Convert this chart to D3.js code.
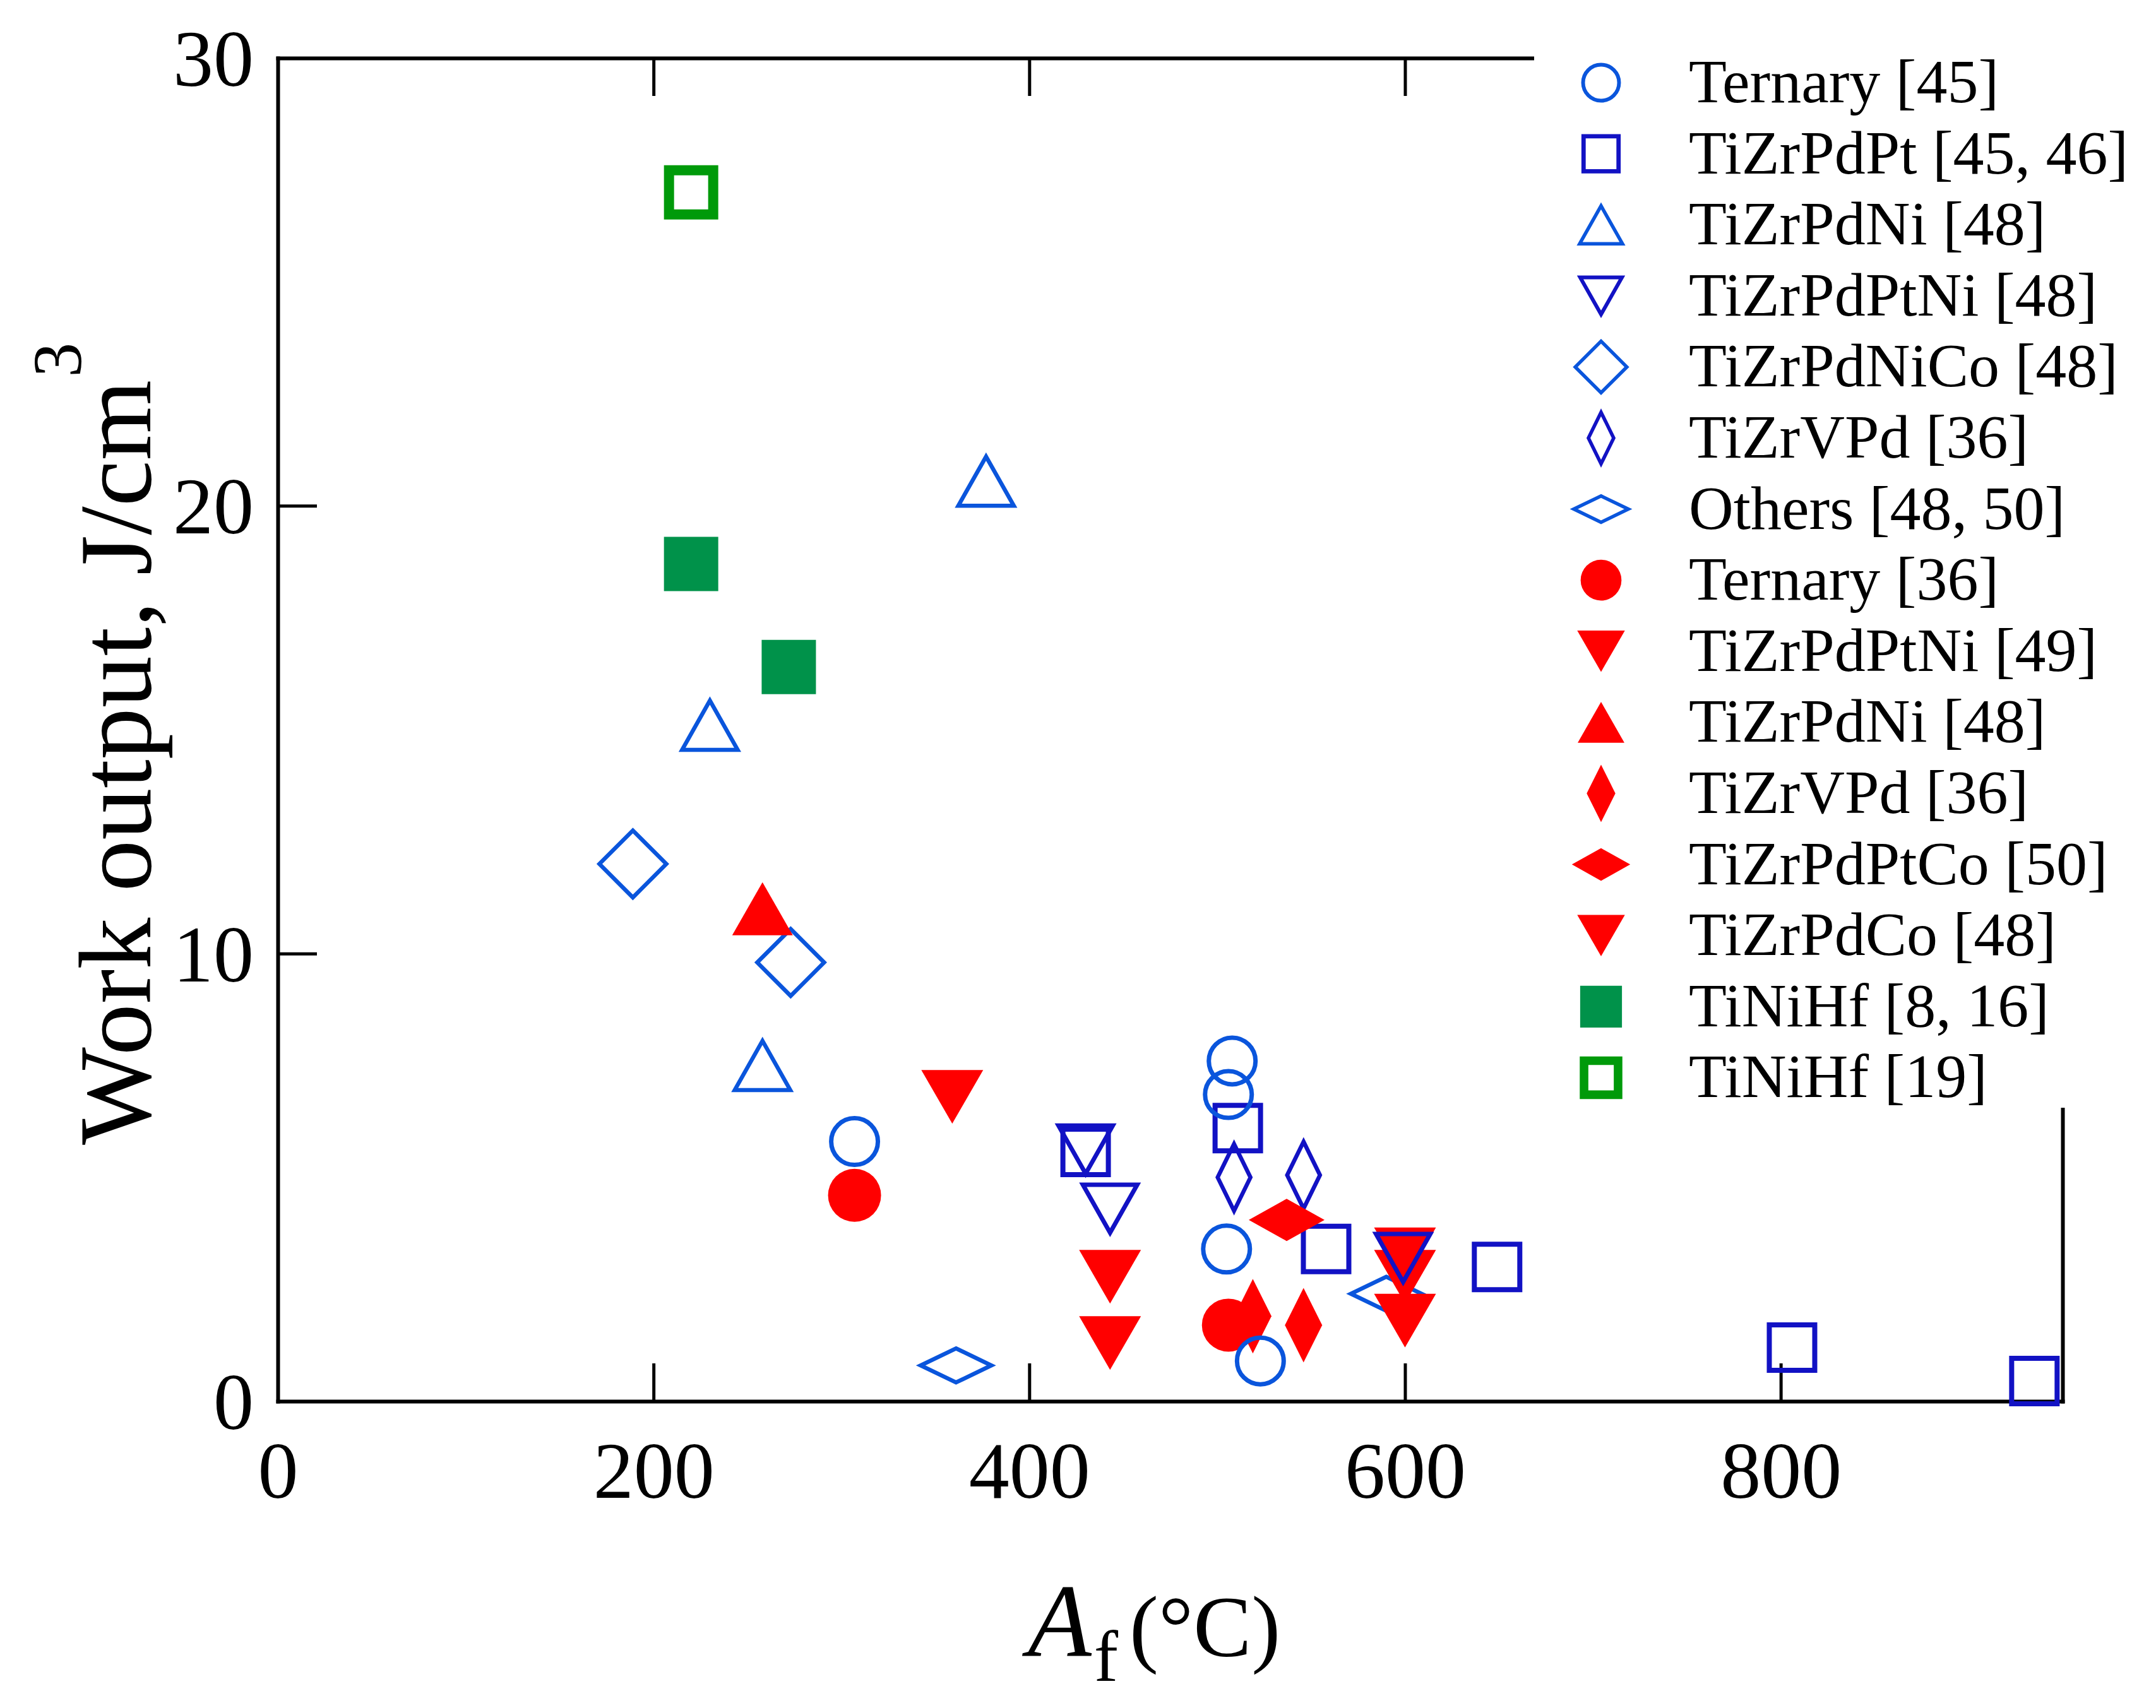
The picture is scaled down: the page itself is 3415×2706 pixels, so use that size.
<!DOCTYPE html>
<html>
<head>
<meta charset="utf-8">
<script src="https://cdn.jsdelivr.net/npm/d3@7"></script>
<style>
  body { margin: 0; background: #fff; }
  text { font-family: "Liberation Serif", "Times New Roman", serif; fill: #000; }
</style>
</head>
<body>
<div id="chart"></div>
<script>
// legend entries, top to bottom
const legendLabels = [
  "Ternary [45]", "TiZrPdPt [45, 46]", "TiZrPdNi [48]", "TiZrPdPtNi [48]",
  "TiZrPdNiCo [48]", "TiZrVPd [36]", "Others [48, 50]", "Ternary [36]",
  "TiZrPdPtNi [49]", "TiZrPdNi [48]", "TiZrVPd [36]", "TiZrPdPtCo [50]",
  "TiZrPdCo [48]", "TiNiHf [8, 16]", "TiNiHf [19]"
];

// Af (°C) and work output (J/cm3) for each series
const afTernary45 = [508, 506, 505, 523, 307];
const wTernary45 = [7.6, 6.85, 3.4, 0.9, 5.8];
const afTiZrPdPt = [430, 511, 558, 649, 806, 935];
const wTiZrPdPt = [5.57, 6.1, 3.4, 3.0, 1.2, 0.45];
const afTiZrPdNi = [230, 377, 258];
const wTiZrPdNi = [15.1, 20.55, 7.5];
const afTiZrPdPtNi48 = [430, 443, 599];
const wTiZrPdPtNi48 = [5.62, 4.3, 3.2];
const afTiZrPdNiCo = [189, 273];
const wTiZrPdNiCo = [12.0, 9.8];
const afTiZrVPdOpen = [509, 546];
const wTiZrVPdOpen = [5.0, 5.05];
const afOthers = [361, 590];
const wOthers = [0.8, 2.4];
const afTernary36 = [307, 506];
const wTernary36 = [4.6, 1.7];
const afTiZrPdPtNi49 = [359, 443, 443];
const wTiZrPdPtNi49 = [6.8, 2.78, 1.3];
const afTiZrPdNiRed = [258];
const wTiZrPdNiRed = [11.0];
const afTiZrVPdRed = [519, 546];
const wTiZrVPdRed = [1.9, 1.7];
const afTiZrPdPtCo = [537];
const wTiZrPdPtCo = [4.05];
const afTiZrPdCo = [600, 600, 600];
const wTiZrPdCo = [3.28, 2.78, 1.8];
const afTiNiHf816 = [220, 272];
const wTiNiHf816 = [18.7, 16.4];
const afTiNiHf19 = [220];
const wTiNiHf19 = [27.0];

const xTicks = [0, 200, 400, 600, 800];
const yTicks = [0, 10, 20, 30];

const BLUE = "#0a55dc", DKBLUE = "#1212c4", RED = "#ff0000", GREEN = "#00924a", GREEN2 = "#009a0a";

// marker look per series (same order as legendLabels)
const markers = [
  { xs: afTernary45, ys: wTernary45, shape: "circle", w: 74, h: 74, color: BLUE, open: true, sw: 7 },
  { xs: afTiZrPdPt, ys: wTiZrPdPt, shape: "square", w: 72, h: 72, color: DKBLUE, open: true, sw: 8 },
  { xs: afTiZrPdNi, ys: wTiZrPdNi, shape: "triUp", w: 88, h: 78, color: BLUE, open: true, sw: 6.5 },
  { xs: afTiZrPdPtNi48, ys: wTiZrPdPtNi48, shape: "triDown", w: 86, h: 76, color: DKBLUE, open: true, sw: 7 },
  { xs: afTiZrPdNiCo, ys: wTiZrPdNiCo, shape: "diamond", w: 106, h: 106, color: BLUE, open: true, sw: 6.5 },
  { xs: afTiZrVPdOpen, ys: wTiZrVPdOpen, shape: "diamond", w: 52, h: 106, color: DKBLUE, open: true, sw: 6.5 },
  { xs: afOthers, ys: wOthers, shape: "diamond", w: 112, h: 54, color: BLUE, open: true, sw: 6.5 },
  { xs: afTernary36, ys: wTernary36, shape: "circle", w: 84, h: 84, color: RED, open: false },
  { xs: afTiZrPdPtNi49, ys: wTiZrPdPtNi49, shape: "triDown", w: 98, h: 85, color: RED, open: false },
  { xs: afTiZrPdNiRed, ys: wTiZrPdNiRed, shape: "triUp", w: 96, h: 84, color: RED, open: false },
  { xs: afTiZrVPdRed, ys: wTiZrVPdRed, shape: "diamond", w: 59, h: 118, color: RED, open: false },
  { xs: afTiZrPdPtCo, ys: wTiZrPdPtCo, shape: "diamond", w: 120, h: 67, color: RED, open: false },
  { xs: afTiZrPdCo, ys: wTiZrPdCo, shape: "triDown", w: 98, h: 85, color: RED, open: false },
  { xs: afTiNiHf816, ys: wTiNiHf816, shape: "square", w: 86, h: 86, color: GREEN, open: false },
  { xs: afTiNiHf19, ys: wTiNiHf19, shape: "square", w: 70, h: 70, color: GREEN2, open: true, sw: 16 }
];
// paint order in the plot (some blue outlines sit on top of red marks)
const drawOrder = [6, 5, 4, 2, 1, 7, 8, 9, 10, 11, 12, 13, 14, 0, 3];

function shapePath(shape, w, h) {
  const a = w / 2, b = h / 2;
  if (shape === "circle") return `M${a},0A${a},${b} 0 1 1 ${-a},0A${a},${b} 0 1 1 ${a},0Z`;
  if (shape === "square") return `M${-a},${-b}H${a}V${b}H${-a}Z`;
  if (shape === "triUp") return `M0,${-b}L${a},${b}L${-a},${b}Z`;
  if (shape === "triDown") return `M0,${b}L${a},${-b}L${-a},${-b}Z`;
  return `M0,${-b}L${a},0L0,${b}L${-a},0Z`;
}

function drawMarker(g, m, cx, cy, s) {
  g.append("path")
    .attr("transform", `translate(${cx},${cy})`)
    .attr("d", shapePath(m.shape, m.w * s, m.h * s))
    .attr("fill", m.open ? "none" : m.color)
    .attr("stroke", m.open ? m.color : "none")
    .attr("stroke-width", m.open ? m.sw * (s < 1 ? 0.85 : 1) : 0)
    .attr("stroke-linejoin", "miter");
}

const width = 3415, height = 2706;
const svg = d3.select("#chart").append("svg")
  .attr("width", width)
  .attr("height", height);

const x = d3.scaleLinear().domain([0, 950]).range([440, 3267]);
const y = d3.scaleLinear().domain([0, 30]).range([2220, 92]);

function styleAxis(g) {
  g.select(".domain").attr("stroke", "#000").attr("stroke-width", 6).attr("stroke-linecap", "square");
  g.selectAll(".tick line").attr("stroke", "#000").attr("stroke-width", 5);
}

svg.append("g")
  .attr("transform", `translate(0,${y(0)})`)
  .call(d3.axisBottom(x).tickValues(xTicks).tickSize(-60).tickSizeOuter(0).tickPadding(62))
  .call(styleAxis)
  .selectAll("text").attr("font-size", 128).style("font-family", "Liberation Serif");

svg.append("g")
  .attr("transform", `translate(0,${y(30)})`)
  .call(d3.axisTop(x).tickValues(xTicks.slice(1)).tickSize(-60).tickSizeOuter(0).tickFormat(""))
  .call(styleAxis);

svg.append("g")
  .attr("transform", `translate(${x(0)},0)`)
  .call(d3.axisLeft(y).tickValues(yTicks).tickSize(-62).tickSizeOuter(0).tickPadding(38))
  .call(styleAxis)
  .selectAll("text").attr("font-size", 128).attr("dy", "0.34em").style("font-family", "Liberation Serif");

svg.append("g")
  .attr("transform", `translate(${x(950)},0)`)
  .call(d3.axisRight(y).tickValues([10, 20]).tickSize(-60).tickSizeOuter(0).tickFormat(""))
  .call(styleAxis);

// data marks
const plot = svg.append("g");
drawOrder.forEach(i => {
  const m = markers[i];
  m.xs.forEach((v, j) => drawMarker(plot, m, x(v), y(m.ys[j]), 1));
});

// legend sits on a white panel over the top-right corner of the frame
svg.append("rect")
  .attr("x", 2430).attr("y", 0)
  .attr("width", width - 2430).attr("height", 1755)
  .attr("fill", "#fff");

const legend = svg.append("g");
legendLabels.forEach((label, i) => {
  const cy = 131 + i * 112.6;
  drawMarker(legend, markers[i], 2536, cy, 0.77);
  legend.append("text")
    .attr("x", 2675)
    .attr("y", cy + 31)
    .attr("font-size", 98)
    .text(label);
});

// axis titles
const yt = svg.append("text")
  .attr("transform", "translate(238,1814) rotate(-90)")
  .attr("font-size", 164)
  .attr("text-anchor", "start");
yt.append("tspan").text("Work output, J/cm");
yt.append("tspan").attr("font-size", 110).attr("dy", -110).attr("dx", 4).text("3");

const xt = svg.append("text")
  .attr("x", 1628)
  .attr("y", 2624)
  .attr("text-anchor", "start");
xt.append("tspan").attr("font-size", 165).attr("font-style", "italic").text("A");
xt.append("tspan").attr("font-size", 115).attr("dy", 39).attr("dx", 4).text("f");
xt.append("tspan").attr("font-size", 138).attr("dy", -39).attr("dx", 18).text("(°C)");
</script>
</body>
</html>
